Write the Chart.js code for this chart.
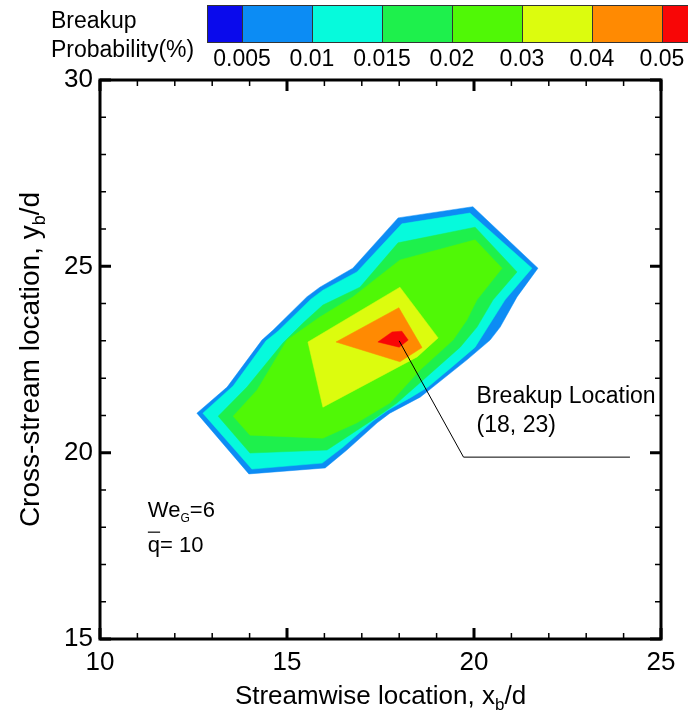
<!DOCTYPE html>
<html>
<head>
<meta charset="utf-8">
<script src="https://cdn.jsdelivr.net/npm/chart.js@4.4.0/dist/chart.umd.min.js"></script>
<style>
  html, body { margin: 0; padding: 0; background: #fff; }
  #wrap { width: 688px; height: 719px; }
</style>
</head>
<body>
<div id="wrap"><canvas id="breakupMap" width="688" height="719"></canvas></div>
<script>
// contour levels of breakup probability (%) and the band colours between them
const levels = [0.005, 0.01, 0.015, 0.02, 0.03, 0.04, 0.05];
const bandColors = ['#0a0aec', '#0c8cf4', '#06fadc', '#1ef04c', '#50f806', '#dcfc0e', '#ff8a02', '#f80606'];

// closed contour lines, [x/d, y/d], outermost first
const c005 = [[12.59,21.06],[13.40,21.76],[14.33,23.02],[14.63,23.29],[15.53,24.18],[15.88,24.44],[16.76,24.95],[17.97,26.30],[19.97,26.60],[21.71,24.95],[21.15,24.18],[20.70,23.37],[20.43,23.02],[19.81,22.49],[18.90,21.76],[18.56,21.49],[17.75,21.06],[17.41,20.80],[16.60,20.07],[16.02,19.59],[13.98,19.43]];
const c010 = [[12.75,21.06],[13.56,21.79],[14.44,23.00],[14.76,23.26],[15.64,24.12],[15.96,24.36],[16.87,24.85],[18.07,26.14],[19.89,26.43],[21.55,24.95],[20.83,24.10],[20.37,23.37],[20.03,22.83],[19.41,22.30],[18.77,21.76],[18.29,21.47],[17.70,21.14],[17.30,20.85],[16.50,20.15],[15.94,19.72],[14.06,19.56]];
const c015 = [[13.16,20.98],[13.93,21.76],[14.89,22.94],[15.43,23.48],[15.96,23.96],[16.95,24.44],[17.97,25.63],[20.03,26.05],[21.15,24.85],[20.51,24.10],[20.08,23.37],[19.63,22.83],[18.64,21.95],[17.94,21.33],[17.41,20.96],[16.60,20.42],[16.07,20.07],[14.01,19.99]];
const c020 = [[13.56,20.98],[14.20,21.68],[15.00,23.02],[15.88,23.64],[16.76,24.18],[18.02,25.17],[20.03,25.71],[20.75,24.95],[20.08,24.10],[19.81,23.56],[19.44,23.02],[18.56,22.22],[17.75,21.33],[16.87,20.80],[15.96,20.39],[14.01,20.47]];
const c030 = [[15.56,22.97],[18.02,24.44],[19.04,23.08],[18.48,22.57],[15.96,21.22]];
const c040 = [[16.31,22.97],[17.99,23.89],[18.61,22.82],[18.02,22.44]];
const c050 = [[17.43,22.97],[17.81,23.24],[18.07,23.26],[18.24,23.02],[18.00,22.83]];
const contours = [c005, c010, c015, c020, c030, c040, c050];

// leader from the breakup location to its label
const leaderX = [18, 19.72, 24.17];
const leaderY = [23, 19.88, 19.88];

const xTicks = [10, 15, 20, 25];
const yTicks = [15, 20, 25, 30];

const FONT = '"Liberation Sans", Arial, Helvetica, sans-serif';

const datasets = contours.map((pts, i) => ({
    label: 'p >= ' + levels[i],
    data: pts.concat([pts[0]]).map(p => ({ x: p[0], y: p[1] })),
    showLine: true,
    fill: 'shape',
    backgroundColor: bandColors[i + 1],
    borderColor: bandColors[i + 1],
    borderWidth: 0.5,
    pointRadius: 0,
    tension: 0,
    order: contours.length - i + 1
}));

datasets.push({
    label: 'leader',
    data: leaderX.map((x, i) => ({ x: x, y: leaderY[i] })),
    showLine: true,
    fill: false,
    borderColor: '#000',
    borderWidth: 1,
    pointRadius: 0,
    order: 0
});

// draws text pieces in a row, some of them as subscripts
function drawRich(ctx, parts, x, y) {
    let total = 0;
    parts.forEach(p => {
        ctx.font = p.size + 'px ' + FONT;
        p.w = ctx.measureText(p.t).width;
        total += p.w;
    });
    let cx = x - total / 2;
    parts.forEach(p => {
        ctx.font = p.size + 'px ' + FONT;
        ctx.fillText(p.t, cx, y + (p.dy || 0));
        cx += p.w;
    });
}

const decorations = {
    id: 'decorations',
    afterDraw(chart) {
        const ctx = chart.ctx;
        const xs = chart.scales.x, ys = chart.scales.y;
        const a = chart.chartArea;
        ctx.save();
        ctx.fillStyle = '#000';
        ctx.strokeStyle = '#000';
        ctx.textBaseline = 'alphabetic';
        ctx.textAlign = 'left';

        // inward ticks on all four sides
        ctx.lineCap = 'butt';
        for (let v = xs.min; v <= xs.max; v++) {
            const px = xs.getPixelForValue(v);
            const major = v % 5 === 0;
            const len = major ? 11 : 6;
            ctx.lineWidth = major ? 3 : 1.5;
            ctx.beginPath();
            ctx.moveTo(px, a.bottom); ctx.lineTo(px, a.bottom - len);
            ctx.moveTo(px, a.top); ctx.lineTo(px, a.top + len);
            ctx.stroke();
        }
        for (let v = ys.min; v <= ys.max; v++) {
            const py = ys.getPixelForValue(v);
            const major = v % 5 === 0;
            const len = major ? 11 : 6;
            ctx.lineWidth = major ? 3 : 1.5;
            ctx.beginPath();
            ctx.moveTo(a.left, py); ctx.lineTo(a.left + len, py);
            ctx.moveTo(a.right, py); ctx.lineTo(a.right - len, py);
            ctx.stroke();
        }

        // frame
        ctx.lineWidth = 3;
        ctx.strokeRect(a.left, a.top, a.right - a.left, a.bottom - a.top);

        // colour bar
        const barTop = 5, barH = 37, barX0 = 207, half = 35, step = 70;
        ctx.lineWidth = 1;
        ctx.strokeStyle = '#333';
        for (let i = 0; i < bandColors.length; i++) {
            const x0 = i === 0 ? barX0 : barX0 + half + (i - 1) * step;
            const w = i === 0 ? half : step;
            ctx.fillStyle = bandColors[i];
            ctx.fillRect(x0, barTop, w, barH);
            ctx.strokeRect(x0 + 0.5, barTop + 0.5, w, barH);
        }
        ctx.fillStyle = '#000';
        ctx.font = '23px ' + FONT;
        ctx.textAlign = 'center';
        levels.forEach((lv, i) => {
            ctx.fillText(String(lv), barX0 + half + i * step, 66);
        });
        ctx.textAlign = 'left';
        ctx.fillText('Breakup', 51, 28);
        ctx.fillText('Probability(%)', 51, 57);

        // breakup location label
        ctx.font = '23px ' + FONT;
        ctx.fillText('Breakup Location', xs.getPixelForValue(20.07), ys.getPixelForValue(21.34));
        ctx.fillText('(18, 23)', xs.getPixelForValue(20.07), ys.getPixelForValue(20.56));

        // flow conditions
        const tx = xs.getPixelForValue(11.28);
        const ty = ys.getPixelForValue(18.27);
        ctx.font = '22px ' + FONT;
        ctx.fillText('We', tx, ty);
        let w = ctx.measureText('We').width;
        ctx.font = '12px ' + FONT;
        ctx.fillText('G', tx + w, ty + 5);
        w += ctx.measureText('G').width;
        ctx.font = '22px ' + FONT;
        ctx.fillText('=6', tx + w, ty);
        const qy = ys.getPixelForValue(17.33);
        ctx.fillText('q= 10', tx, qy);
        ctx.lineWidth = 1.2;
        ctx.strokeStyle = '#000';
        ctx.beginPath();
        ctx.moveTo(tx, qy - 20); ctx.lineTo(tx + ctx.measureText('q').width, qy - 20);
        ctx.stroke();

        // axis titles with subscripts
        drawRich(ctx, [
            { t: 'Streamwise location, x', size: 26 },
            { t: 'b', size: 17, dy: 6 },
            { t: '/d', size: 26 }
        ], (a.left + a.right) / 2, 704);

        ctx.translate(39, (a.top + a.bottom) / 2);
        ctx.rotate(-Math.PI / 2);
        drawRich(ctx, [
            { t: 'Cross-stream location, y', size: 28 },
            { t: 'b', size: 18, dy: 6 },
            { t: '/d', size: 28 }
        ], 0, 0);
        ctx.restore();
    }
};

new Chart(document.getElementById('breakupMap'), {
    type: 'scatter',
    data: { datasets: datasets },
    options: {
        responsive: false,
        animation: false,
        layout: { padding: { top: 80, right: 27, left: 0, bottom: 0 } },
        plugins: {
            legend: { display: false },
            tooltip: { enabled: false }
        },
        scales: {
            x: {
                type: 'linear',
                min: 10, max: 25,
                afterFit(scale) { scale.height = 80; },
                afterBuildTicks(scale) { scale.ticks = xTicks.map(v => ({ value: v })); },
                grid: { display: false, drawTicks: false },
                border: { display: false },
                ticks: {
                    color: '#000',
                    padding: 8,
                    maxRotation: 0,
                    font: { family: FONT, size: 26 }
                }
            },
            y: {
                type: 'linear',
                min: 15, max: 30,
                afterFit(scale) { scale.width = 100; },
                afterBuildTicks(scale) { scale.ticks = yTicks.map(v => ({ value: v })); },
                grid: { display: false, drawTicks: false },
                border: { display: false },
                ticks: {
                    color: '#000',
                    padding: 7,
                    font: { family: FONT, size: 26 }
                }
            }
        }
    },
    plugins: [decorations]
});
</script>
</body>
</html>
